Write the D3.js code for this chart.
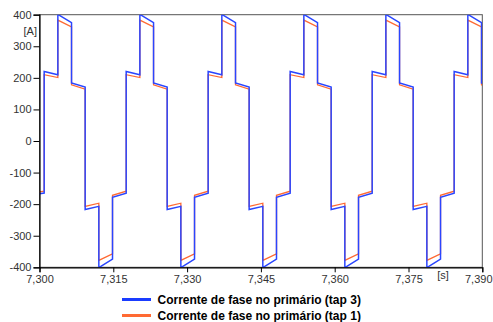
<!DOCTYPE html>
<html>
<head>
  <meta charset="utf-8">
  <title>Corrente de fase no primário</title>
  <script src="https://d3js.org/d3.v7.min.js"></script>
  <style>
    body { margin: 0; background: #fff; }
    svg { display: block; font-family: "Liberation Sans", Arial, sans-serif; }
    .tick text { font-size: 11px; fill: #333; }
    .tick line, .domain { stroke: #000; }
    .wave { fill: none; stroke-linejoin: miter; }
    .tap3 { stroke: #2a46ff; stroke-width: 1.5; }
    .tap1 { stroke: #ff6a33; stroke-width: 1.3; }
    .legend text { font-size: 12px; font-weight: bold; fill: #000; }
  </style>
</head>
<body>
<script>
// segment break times [s]; segment i runs from tBreak[i] to tBreak[i + 1]
const tBreak = [7.30000,
  7.30095, 7.30373, 7.30651, 7.30928, 7.31206, 7.31484,
  7.31762, 7.32040, 7.32318, 7.32595, 7.32873, 7.33151,
  7.33428, 7.33706, 7.33984, 7.34261, 7.34539, 7.34817,
  7.35095, 7.35373, 7.35651, 7.35928, 7.36206, 7.36484,
  7.36762, 7.37040, 7.37318, 7.37595, 7.37873, 7.38151,
  7.38428, 7.38706, 7.38984,
  7.39000];

// tap 3 current [A] at start / end of each segment
const tap3Start = [-167,
  220, 401, 184, -217, -401, -178,
  220, 401, 184, -217, -401, -178,
  220, 401, 184, -217, -401, -178,
  220, 401, 184, -217, -401, -178,
  220, 401, 184, -217, -401, -178,
  220, 401, 184];
const tap3End = [-165,
  210, 375, 171, -207, -374, -165,
  210, 375, 171, -207, -374, -165,
  210, 375, 171, -207, -374, -165,
  210, 375, 171, -207, -374, -165,
  210, 375, 171, -207, -374, -165,
  210, 375, 183];

// tap 1 current [A]
const tap1Start = [-161,
  210, 383, 178, -207, -378, -172,
  210, 383, 178, -207, -378, -172,
  210, 383, 178, -207, -378, -172,
  210, 383, 178, -207, -378, -172,
  210, 383, 178, -207, -378, -172,
  210, 383, 178];
const tap1End = [-159,
  201, 361, 164, -197, -357, -159,
  201, 361, 164, -197, -357, -159,
  201, 361, 164, -197, -357, -159,
  201, 361, 164, -197, -357, -159,
  201, 361, 164, -197, -357, -159,
  201, 361, 177];

const xTicks = [7.300, 7.315, 7.330, 7.345, 7.360, 7.375, 7.390];
const xTickLabels = ["7,300", "7,315", "7,330", "7,345", "7,360", "7,375", "7,390"];
const yTicks = [-400, -300, -200, -100, 0, 100, 200, 300, 400];

const legendLabels = ["Corrente de fase no primário (tap 3)", "Corrente de fase no primário (tap 1)"];

const W = 493, H = 322;
const plotL = 39.5, plotR = 482.3, plotT = 14.7, plotB = 267.3;

const svg = d3.select("body").append("svg")
  .attr("width", W)
  .attr("height", H);

const x = d3.scaleLinear().domain([7.300, 7.390]).range([plotL, plotR]);
const y = d3.scaleLinear().domain([-400, 400]).range([plotB, plotT]);

svg.append("clipPath").attr("id", "plot")
  .append("rect")
  .attr("x", plotL).attr("y", plotT)
  .attr("width", plotR - plotL).attr("height", plotB - plotT);

// frame (top / right)
svg.append("rect")
  .attr("x", plotL).attr("y", plotT)
  .attr("width", plotR - plotL).attr("height", plotB - plotT)
  .attr("fill", "none")
  .attr("stroke", "#555");

function points(starts, ends) {
  const pts = [];
  starts.forEach((v, i) => {
    pts.push([tBreak[i], v]);
    pts.push([tBreak[i + 1], ends[i]]);
  });
  return pts;
}

const line = d3.line()
  .x(d => x(d[0]))
  .y(d => y(d[1]));

const plot = svg.append("g").attr("clip-path", "url(#plot)");

plot.append("path")
  .datum(points(tap1Start, tap1End))
  .attr("class", "wave tap1")
  .attr("d", line);

plot.append("path")
  .datum(points(tap3Start, tap3End))
  .attr("class", "wave tap3")
  .attr("d", line);

// axes
svg.append("g")
  .attr("transform", `translate(${plotL},0)`)
  .call(d3.axisLeft(y).tickValues(yTicks).tickSize(6).tickPadding(2)
    .tickFormat(d => String(d)));

const xAxis = svg.append("g")
  .attr("transform", `translate(0,${plotB})`)
  .call(d3.axisBottom(x).tickValues(xTicks).tickSize(5).tickPadding(3)
    .tickFormat((d, i) => xTickLabels[i]));

// last label kept inside the window
xAxis.selectAll(".tick text")
  .filter((d, i) => i === xTicks.length - 1)
  .attr("text-anchor", "end")
  .attr("x", 492 - plotR);

svg.selectAll(".domain").attr("stroke-width", 1.2);

// units
svg.append("text")
  .attr("x", 37).attr("y", 35)
  .attr("text-anchor", "end")
  .attr("font-size", 11).attr("fill", "#333")
  .text("[A]");

svg.append("text")
  .attr("x", 443).attr("y", 279)
  .attr("text-anchor", "middle")
  .attr("font-size", 11).attr("fill", "#333")
  .text("[s]");

// legend
const legend = svg.append("g").attr("class", "legend");
const legendColors = ["#1a3cff", "#ff6a33"];
legendLabels.forEach((label, i) => {
  const ly = 299.5 + i * 16;
  legend.append("line")
    .attr("x1", 122).attr("x2", 151)
    .attr("y1", ly).attr("y2", ly)
    .attr("stroke", legendColors[i])
    .attr("stroke-width", 3);
  legend.append("text")
    .attr("x", 157.5).attr("y", ly + 4.3)
    .text(label);
});
</script>
</body>
</html>
